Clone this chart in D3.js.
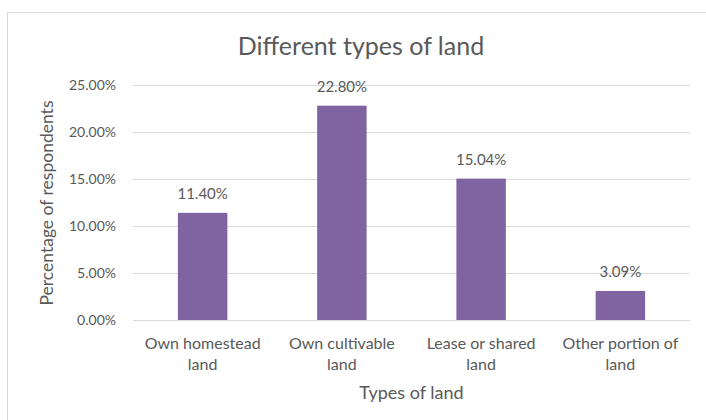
<!DOCTYPE html>
<html>
<head>
<meta charset="utf-8">
<script src="https://cdn.jsdelivr.net/npm/d3@7"></script>
<style>
  html, body { margin: 0; padding: 0; background: #fff; }
  svg { display: block; }
  text { font-family: Lato, "Open Sans", sans-serif; fill: #595959; }
</style>
</head>
<body>
<svg id="chart" width="706" height="420"></svg>
<script>
// Land ownership categories and their share of respondents (%)
const categories = [
  ["Own homestead", "land"],
  ["Own cultivable", "land"],
  ["Lease or shared", "land"],
  ["Other portion of", "land"]
];
const values = [11.40, 22.80, 15.04, 3.09];
const yTicks = [0, 5, 10, 15, 20, 25];

const svg = d3.select("#chart");
const W = 706, H = 420;
const margin = { left: 133, right: 16, top: 85, bottom: 100 };
const plotW = W - margin.left - margin.right;

// Outer chart frame
svg.append("rect")
  .attr("x", 7.5).attr("y", 12.5)
  .attr("width", 720).attr("height", 430)
  .attr("fill", "#fff").attr("stroke", "#d9d9d9").attr("stroke-width", 1);

const x = d3.scaleBand()
  .domain(d3.range(categories.length))
  .range([margin.left, margin.left + plotW])
  .paddingInner(0.645).paddingOuter(0.3225);

const y = d3.scaleLinear().domain([0, 25]).range([320, 85]);

// Horizontal gridlines
svg.append("g")
  .selectAll("line")
  .data(yTicks)
  .join("line")
  .attr("x1", margin.left).attr("x2", margin.left + plotW)
  .attr("y1", d => Math.round(y(d)) + 0.5).attr("y2", d => Math.round(y(d)) + 0.5)
  .attr("stroke", "#d9d9d9").attr("stroke-width", 1);

// Y axis tick labels
const yAxis = d3.axisLeft(y).tickValues(yTicks)
  .tickFormat(d => d3.format(".2f")(d) + "%").tickSize(0).tickPadding(0);
const gy = svg.append("g").attr("transform", `translate(116,0)`).call(yAxis);
gy.select(".domain").remove();
gy.selectAll("text").attr("font-size", 14).style("font-family", "Lato, sans-serif").attr("fill", "#595959");

// Bars
svg.append("g")
  .selectAll("rect")
  .data(values)
  .join("rect")
  .attr("x", (d, i) => x(i))
  .attr("width", x.bandwidth())
  .attr("y", d => y(d))
  .attr("height", d => y(0) - y(d))
  .attr("fill", "#8064a2");

// Value labels
svg.append("g")
  .selectAll("text")
  .data(values)
  .join("text")
  .attr("x", (d, i) => x(i) + x.bandwidth() / 2)
  .attr("y", d => y(d) - 14)
  .attr("text-anchor", "middle")
  .attr("font-size", 15)
  .text(d => d3.format(".2f")(d) + "%");

// Category labels (two lines each)
const xl = svg.append("g")
  .selectAll("text")
  .data(categories)
  .join("text")
  .attr("x", (d, i) => x(i) + x.bandwidth() / 2)
  .attr("y", 349)
  .attr("text-anchor", "middle")
  .attr("font-size", 16);
xl.selectAll("tspan")
  .data(d => d)
  .join("tspan")
  .attr("x", function () { return this.parentNode.getAttribute("x"); })
  .attr("dy", (d, j) => j === 0 ? 0 : 21)
  .text(d => d);

// Axis titles
svg.append("text")
  .attr("x", margin.left + plotW / 2).attr("y", 399)
  .attr("text-anchor", "middle").attr("font-size", 18)
  .text("Types of land");

svg.append("text")
  .attr("transform", "translate(53,203) rotate(-90)")
  .attr("text-anchor", "middle").attr("font-size", 17.5)
  .text("Percentage of respondents");

// Chart title
svg.append("text")
  .attr("x", 361).attr("y", 55)
  .attr("text-anchor", "middle").attr("font-size", 25)
  .text("Different types of land");
</script>
</body>
</html>
